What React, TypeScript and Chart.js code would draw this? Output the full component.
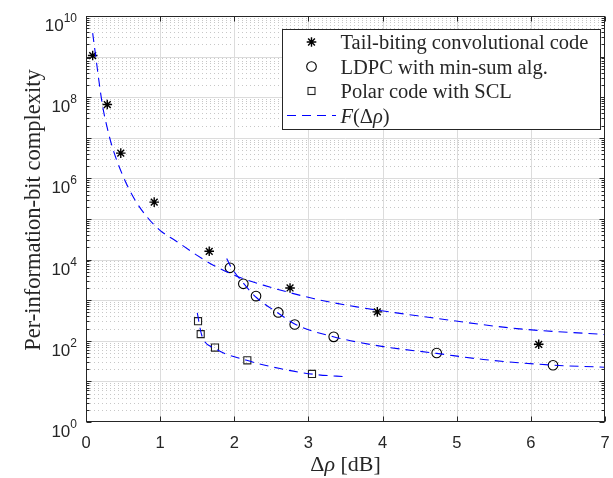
import { useEffect, useRef } from "react";
import { Chart, registerables } from "chart.js";
Chart.register(...registerables);

// Measured points
const tailX = [0.09, 0.287, 0.469, 0.92, 1.662, 2.752, 3.929, 6.106];
const tailY = [1.06e9, 6.6e7, 4.2e6, 2.6e5, 1.6e4, 2.0e3, 516, 82];
const ldpcX = [1.942, 2.122, 2.293, 2.594, 2.815, 3.341, 4.73, 6.299];
const ldpcY = [6280, 2530, 1260, 499, 252, 125, 50, 25];
const polarX = [1.511, 1.547, 1.74, 2.176, 3.048];
const polarY = [304, 146, 68, 33, 15.3];

// F(Δρ) curves
const fitTailX = [0.09, 0.135, 0.189, 0.225, 0.293, 0.36, 0.503, 0.661, 0.819, 0.998, 1.223, 1.493, 1.717, 2.077, 2.391, 3.066, 3.651, 4.64, 5.809, 6.991];
const fitTailY = [3.8e9, 8.9e8, 1.6e8, 5.9e7, 1.56e7, 5.5e6, 1.1e6, 2.95e5, 1.15e5, 5.25e4, 2.8e4, 1.29e4, 7300, 3640, 2350, 1100, 685, 376, 200, 143];
const fitLdpcX = [1.898, 1.942, 2.122, 2.302, 2.594, 2.842, 3.336, 4.01, 4.73, 5.359, 6.299, 6.991];
const fitLdpcY = [10700, 7240, 2630, 1150, 479, 245, 126, 72, 49, 34.7, 25.1, 22.4];
const fitPolarX = [1.501, 1.561, 1.74, 2.168, 2.617, 3.066, 3.538];
const fitPolarY = [488, 137, 65, 33, 20.7, 15, 12.9];

const xTicks = [0, 1, 2, 3, 4, 5, 6, 7];
const yDecades = [0, 1, 2, 3, 4, 5, 6, 7, 8, 9, 10];
const yLabelExps = [0, 2, 4, 6, 8, 10];
const legendLabels = ["Tail-biting convolutional code", "LDPC with min-sum alg.", "Polar code with SCL"];
const yTitle = "Per-information-bit complexity";

const AXIS = "#262626";
const BLUE = "#0000ff";
const SANS = '"Liberation Sans", Arial, sans-serif';
const SERIF = '"Liberation Serif", "Times New Roman", serif';

const toPts = (xs: number[], ys: number[]) => xs.map((v, i) => ({ x: v, y: ys[i] }));

function drawStar(ctx: CanvasRenderingContext2D, x: number, y: number, r: number) {
  ctx.beginPath();
  ctx.moveTo(x - r, y); ctx.lineTo(x + r, y);
  ctx.moveTo(x, y - r); ctx.lineTo(x, y + r);
  const d = r * Math.SQRT1_2;
  ctx.moveTo(x - d, y - d); ctx.lineTo(x + d, y + d);
  ctx.moveTo(x - d, y + d); ctx.lineTo(x + d, y - d);
  ctx.stroke();
}

function drawRuns(ctx: CanvasRenderingContext2D, runs: [string, boolean][], x: number, y: number, size: number, align: "left" | "center") {
  const widths = runs.map(([t, it]) => {
    ctx.font = `${it ? "italic " : ""}${size}px ${SERIF}`;
    return ctx.measureText(t).width;
  });
  const total = widths.reduce((a, b) => a + b, 0);
  let cx = align === "center" ? x - total / 2 : x;
  ctx.textAlign = "left";
  runs.forEach(([t, it], i) => {
    ctx.font = `${it ? "italic " : ""}${size}px ${SERIF}`;
    ctx.fillText(t, cx, y);
    cx += widths[i];
  });
}

const decor = {
  id: "decor",
  beforeDatasetsDraw(chart: any) {
    const { ctx, chartArea } = chart;
    const { left, right, top, bottom } = chartArea;
    const xs = chart.scales.x;
    const ys = chart.scales.y;
    ctx.save();
    ctx.beginPath();
    ctx.rect(left, top, right - left, bottom - top);
    ctx.clip();
    // minor y grid (dotted)
    ctx.strokeStyle = "rgba(38,38,38,0.26)";
    ctx.lineWidth = 1;
    ctx.setLineDash([1, 3]);
    for (let e = 0; e < 10; e++) {
      for (let m = 2; m <= 9; m++) {
        const py = Math.round(ys.getPixelForValue(m * Math.pow(10, e))) + 0.5;
        ctx.beginPath();
        ctx.moveTo(left, py);
        ctx.lineTo(right, py);
        ctx.stroke();
      }
    }
    ctx.setLineDash([]);
    ctx.strokeStyle = "#dcdcdc";
    for (const e of yDecades) {
      const py = Math.round(ys.getPixelForValue(Math.pow(10, e))) + 0.5;
      ctx.beginPath();
      ctx.moveTo(left, py);
      ctx.lineTo(right, py);
      ctx.stroke();
    }
    for (const t of xTicks) {
      const px = Math.round(xs.getPixelForValue(t)) + 0.5;
      ctx.beginPath();
      ctx.moveTo(px, top);
      ctx.lineTo(px, bottom);
      ctx.stroke();
    }
    ctx.restore();
  },
  afterDatasetsDraw(chart: any) {
    const { ctx, chartArea } = chart;
    const { left, right, top, bottom } = chartArea;
    const xs = chart.scales.x;
    const ys = chart.scales.y;
    ctx.save();
    ctx.strokeStyle = AXIS;
    ctx.fillStyle = AXIS;
    ctx.lineWidth = 1;
    ctx.setLineDash([]);
    const L = Math.round(left) + 0.5, R = Math.round(right) - 0.5;
    const T = Math.round(top) + 0.5, B = Math.round(bottom) - 0.5;
    ctx.strokeRect(L, T, R - L, B - T);
    // x ticks
    for (const t of xTicks) {
      const px = Math.round(xs.getPixelForValue(t)) + 0.5;
      ctx.beginPath();
      ctx.moveTo(px, B); ctx.lineTo(px, B - 5);
      ctx.moveTo(px, T); ctx.lineTo(px, T + 5);
      ctx.stroke();
    }
    // y ticks
    for (const e of yDecades) {
      const py = Math.round(ys.getPixelForValue(Math.pow(10, e))) + 0.5;
      ctx.beginPath();
      ctx.moveTo(L, py); ctx.lineTo(L + 5, py);
      ctx.moveTo(R, py); ctx.lineTo(R - 5, py);
      ctx.stroke();
      if (e < 10) {
        for (let m = 2; m <= 9; m++) {
          const pm = Math.round(ys.getPixelForValue(m * Math.pow(10, e))) + 0.5;
          ctx.beginPath();
          ctx.moveTo(L, pm); ctx.lineTo(L + 3, pm);
          ctx.moveTo(R, pm); ctx.lineTo(R - 3, pm);
          ctx.stroke();
        }
      }
    }
    // x tick labels
    ctx.font = `16.5px ${SANS}`;
    ctx.textAlign = "center";
    ctx.textBaseline = "alphabetic";
    for (const t of xTicks) {
      ctx.fillText(String(t), xs.getPixelForValue(t), 448);
    }
    // y tick labels 10^e
    for (const e of yLabelExps) {
      const py = ys.getPixelForValue(Math.pow(10, e));
      const exp = String(e);
      ctx.font = `12px ${SANS}`;
      const ew = ctx.measureText(exp).width;
      ctx.font = `17px ${SANS}`;
      const bw = ctx.measureText("10").width;
      const rightEdge = 77;
      ctx.textAlign = "left";
      ctx.font = `17px ${SANS}`;
      ctx.fillText("10", rightEdge - ew - bw, py + 15);
      ctx.font = `12px ${SANS}`;
      ctx.fillText(exp, rightEdge - ew, py + 6);
    }
    // x title
    ctx.fillStyle = AXIS;
    drawRuns(ctx, [["Δ", false], ["ρ", true], [" [dB]", false]], (left + right) / 2, 471, 22, "center");
    // y title
    ctx.save();
    ctx.translate(40, 210);
    ctx.rotate(-Math.PI / 2);
    ctx.font = `22.5px ${SERIF}`;
    ctx.textAlign = "center";
    ctx.fillText(yTitle, 0, 0);
    ctx.restore();

    // legend
    const bx = 282.5, by = 29.5, bw2 = 318, bh = 100;
    ctx.fillStyle = "#ffffff";
    ctx.fillRect(bx, by, bw2, bh);
    ctx.strokeStyle = AXIS;
    ctx.strokeRect(bx, by, bw2, bh);
    const rows = [42, 66.5, 91, 115.5];
    const mx = 311.5;
    const tx = 340.5;
    ctx.strokeStyle = "#000";
    ctx.lineWidth = 1.4;
    drawStar(ctx, mx, rows[0], 4.8);
    ctx.lineWidth = 1.1;
    ctx.beginPath();
    ctx.arc(mx, rows[1], 4.8, 0, Math.PI * 2);
    ctx.stroke();
    ctx.strokeStyle = "#222";
    ctx.strokeRect(mx - 3.5, rows[2] - 3.5, 7, 7);
    ctx.strokeStyle = BLUE;
    ctx.lineWidth = 1.1;
    ctx.setLineDash([9, 6]);
    ctx.beginPath();
    ctx.moveTo(287, rows[3]);
    ctx.lineTo(336, rows[3]);
    ctx.stroke();
    ctx.setLineDash([]);
    ctx.fillStyle = AXIS;
    ctx.textAlign = "left";
    legendLabels.forEach((lab, i) => {
      ctx.font = `20.5px ${SERIF}`;
      ctx.fillText(lab, tx, rows[i] + 7);
    });
    drawRuns(ctx, [["F", true], ["(", false], ["Δ", false], ["ρ", true], [")", false]], tx, rows[3] + 7, 20.5, "left");
    ctx.restore();
  },
};

export default function App() {
  const ref = useRef<HTMLCanvasElement>(null);
  useEffect(() => {
    document.body.style.margin = "0";
    const lineBase = {
      showLine: true,
      borderColor: BLUE,
      backgroundColor: BLUE,
      borderWidth: 1.1,
      borderDash: [9, 6],
      pointRadius: 0,
      cubicInterpolationMode: "monotone" as const,
      fill: false,
    };
    const chart = new Chart(ref.current!, {
      type: "scatter",
      data: {
        datasets: [
          { ...lineBase, label: "F tail", data: toPts(fitTailX, fitTailY) },
          { ...lineBase, label: "F ldpc", data: toPts(fitLdpcX, fitLdpcY) },
          { ...lineBase, label: "F polar", data: toPts(fitPolarX, fitPolarY) },
          {
            label: legendLabels[0], data: toPts(tailX, tailY), showLine: false,
            pointStyle: "star", pointRadius: 4.8, borderColor: "#000", borderWidth: 1.4,
            backgroundColor: "rgba(0,0,0,0)",
          },
          {
            label: legendLabels[1], data: toPts(ldpcX, ldpcY), showLine: false,
            pointStyle: "circle", pointRadius: 4.8, borderColor: "#000", borderWidth: 1.1,
            backgroundColor: "rgba(0,0,0,0)",
          },
          {
            label: legendLabels[2], data: toPts(polarX, polarY), showLine: false,
            pointStyle: "rect", pointRadius: 5, borderColor: "#222", borderWidth: 1.1,
            backgroundColor: "rgba(0,0,0,0)",
          },
        ],
      },
      options: {
        animation: false,
        responsive: false,
        events: [],
        layout: { padding: { top: 16, right: 8, left: 0, bottom: 0 } },
        plugins: { legend: { display: false }, tooltip: { enabled: false } },
        scales: {
          x: {
            type: "linear", min: 0, max: 7,
            grid: { display: false }, border: { display: false },
            ticks: { display: false },
            afterFit: (s: any) => { s.height = 56; },
          },
          y: {
            type: "logarithmic", min: 1, max: 1e10,
            grid: { display: false }, border: { display: false },
            ticks: { display: false },
            afterFit: (s: any) => { s.width = 86; },
          },
        },
      },
      plugins: [decor],
    });
    return () => chart.destroy();
  }, []);
  return (
    <div style={{ width: 613, height: 478, position: "relative" }}>
      <canvas ref={ref} width={613} height={478} style={{ display: "block" }} />
    </div>
  );
}
